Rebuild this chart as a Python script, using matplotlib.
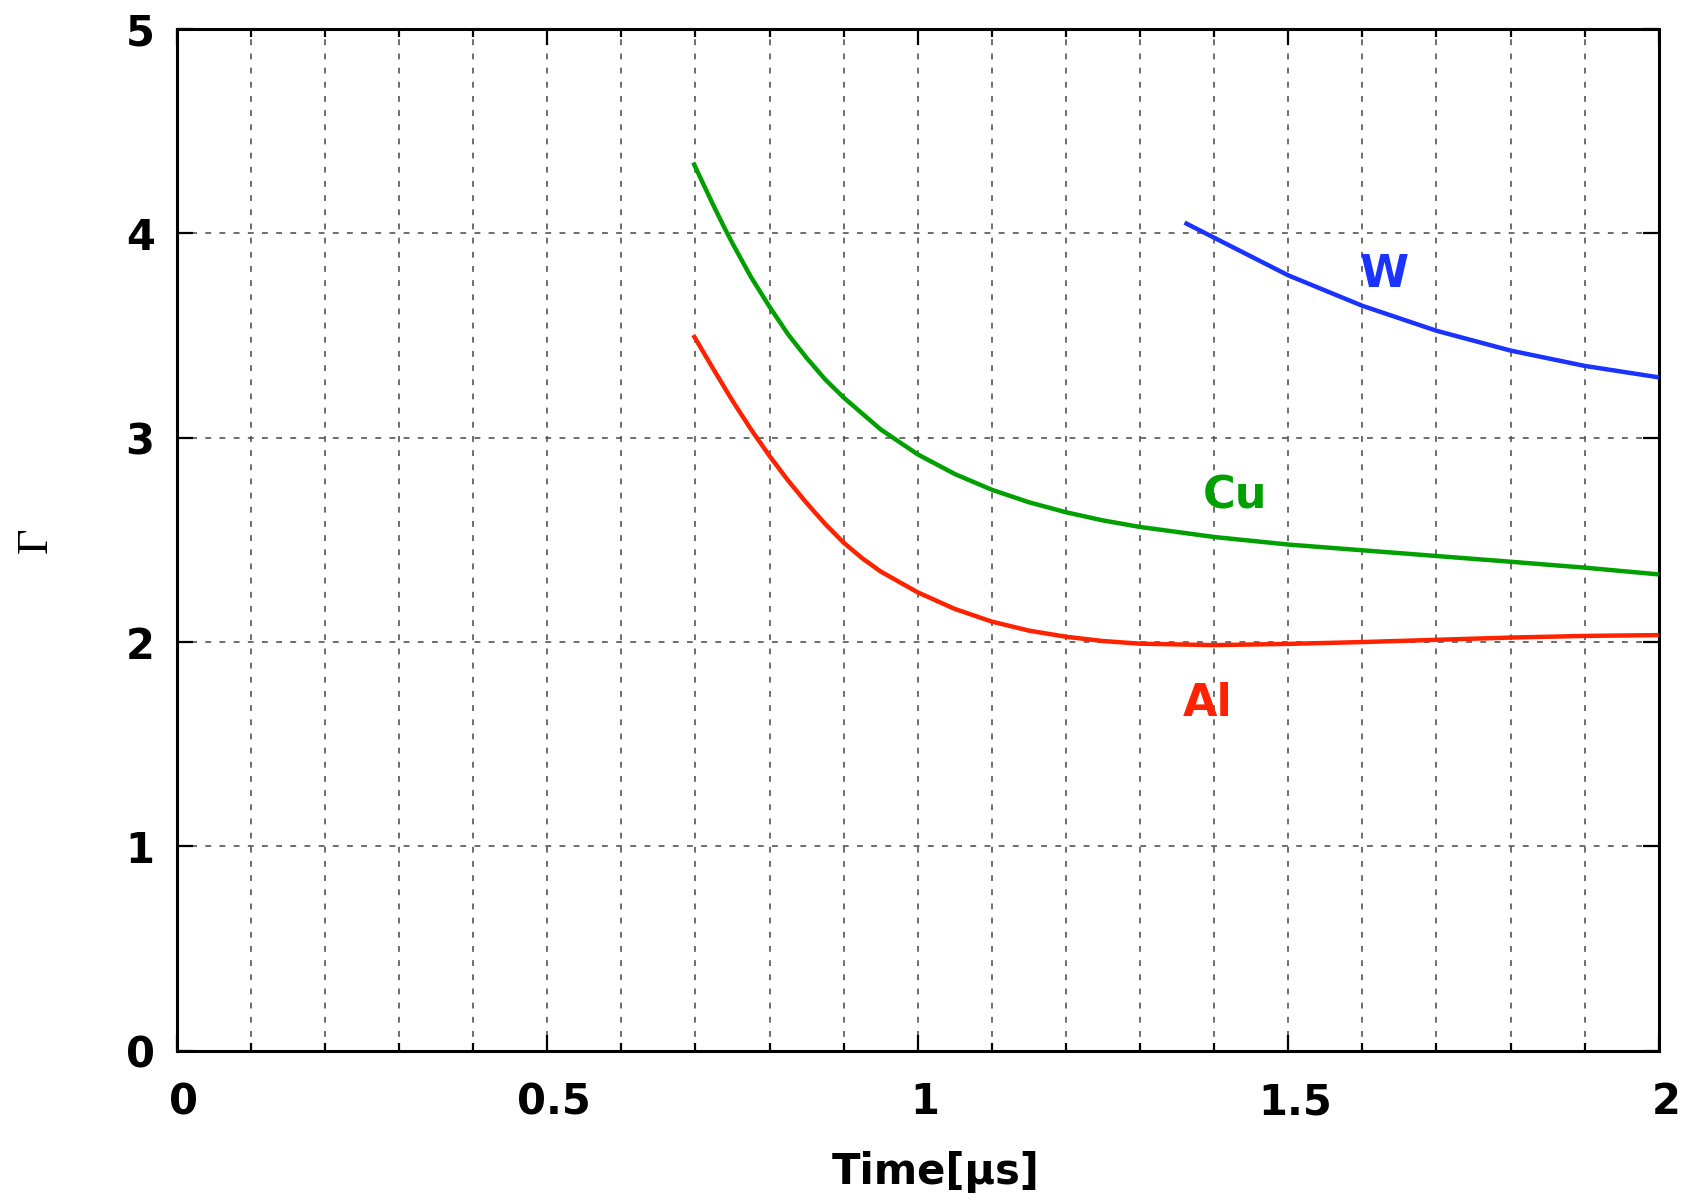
import numpy as np
import matplotlib
matplotlib.use("Agg")
import matplotlib.pyplot as plt
from matplotlib.ticker import MultipleLocator
from matplotlib.transforms import ScaledTranslation

# values
al_t = [0.697, 0.725, 0.75, 0.775, 0.8, 0.825, 0.85, 0.875, 0.9, 0.925, 0.95, 1.0, 1.05, 1.1, 1.15, 1.2,
        1.25, 1.3, 1.4, 1.5, 1.6, 1.7, 1.8, 1.9, 2.0]
al_g = [3.502, 3.33, 3.18, 3.04, 2.91, 2.79, 2.68, 2.578, 2.486, 2.41, 2.345, 2.243, 2.162, 2.10, 2.056, 2.026,
        2.005, 1.992, 1.985, 1.991, 2.0, 2.011, 2.022, 2.03, 2.034]

cu_t = [0.697, 0.71, 0.725, 0.74, 0.75, 0.775, 0.8, 0.825, 0.85, 0.875, 0.9, 0.95, 1.0, 1.05, 1.1, 1.15,
        1.2, 1.25, 1.3, 1.4, 1.5, 1.6, 1.7, 1.8, 1.9, 2.0]
cu_g = [4.346, 4.245, 4.13, 4.02, 3.95, 3.785, 3.64, 3.505, 3.39, 3.285, 3.196, 3.04, 2.918, 2.822, 2.745, 2.684,
        2.635, 2.595, 2.563, 2.514, 2.477, 2.449, 2.421, 2.393, 2.364, 2.331]

w_t = [1.36, 1.4, 1.5, 1.6, 1.7, 1.8, 1.9, 2.0]
w_g = [4.052, 3.978, 3.794, 3.645, 3.523, 3.426, 3.351, 3.295]

labels = ["Al", "Cu", "W"]
label_pos = [(1.391, 1.70), (1.428, 2.715), (1.630, 3.80)]
colors = ["#ff2200", "#00a000", "#1a33ff"]

plt.rcParams["font.family"] = ["DejaVu Sans"]
plt.rcParams["font.weight"] = "bold"

fig = plt.figure(figsize=(16.84, 12.01), dpi=100)
ax = fig.add_axes([0.105, 0.125, 0.880, 0.851])

for t, g, c in zip([al_t, cu_t, w_t], [al_g, cu_g, w_g], colors):
    ax.plot(t, g, color=c, lw=3.2, solid_capstyle="butt", solid_joinstyle="round", zorder=3)

for lab, (x, y), c in zip(labels, label_pos, colors):
    ax.text(x, y, lab, color=c, fontsize=32, fontweight="bold",
            ha="center", va="center")

ax.set_xlim(0, 2)
ax.set_ylim(0, 5)
ax.xaxis.set_minor_locator(MultipleLocator(0.1))
ax.yaxis.set_major_locator(MultipleLocator(1))
ax.set_xticks([0, 0.5, 1, 1.5, 2], labels=["0", "0.5", "1", "1.5", "2"])

ax.grid(which="both", axis="x", color="#555555", lw=1.2, linestyle=(0, (3.5, 5)))
ax.grid(which="major", axis="y", color="#555555", lw=1.2, linestyle=(0, (3.5, 5)))

ax.tick_params(which="major", direction="in", length=11.5, width=1.6,
               top=True, right=True, labelsize=30, pad=16)
ax.tick_params(which="minor", direction="in", length=6, width=1.6,
               top=True, right=False)
ax.tick_params(axis="x", which="major", pad=22)
shift = ScaledTranslation(7 / 100, 0, fig.dpi_scale_trans)
for lbl in ax.get_xticklabels():
    lbl.set_transform(lbl.get_transform() + shift)
for lbl in ax.get_xticklabels() + ax.get_yticklabels():
    lbl.set_fontweight("bold")
for s in ax.spines.values():
    s.set_linewidth(2.2)

ax.set_xlabel("Time[μs]", fontsize=30, fontweight="bold")
ax.xaxis.set_label_coords(0.512, -0.098)
ax.set_ylabel("Γ", fontsize=32, fontweight="normal", family="Liberation Serif",
              labelpad=50)

fig.savefig("out.png", dpi=100)
